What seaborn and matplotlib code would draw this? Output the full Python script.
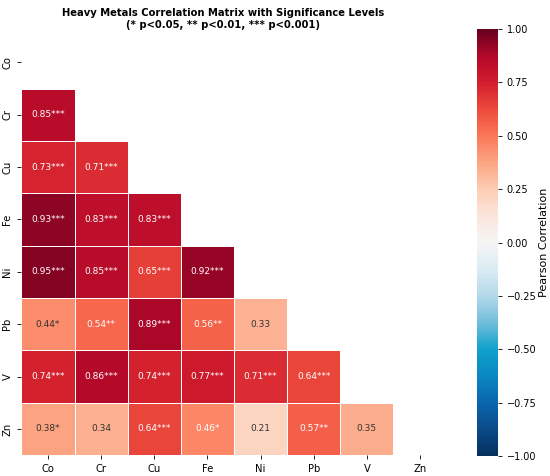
import numpy as np
import pandas as pd
import matplotlib
matplotlib.use('Agg')
import matplotlib.pyplot as plt
from matplotlib.colors import LinearSegmentedColormap
import seaborn as sns

metals = ['Co', 'Cr', 'Cu', 'Fe', 'Ni', 'Pb', 'V', 'Zn']

# lower triangle values, row by row (row i has i entries)
r_Cr = [0.85]
r_Cu = [0.73, 0.71]
r_Fe = [0.93, 0.83, 0.83]
r_Ni = [0.95, 0.85, 0.65, 0.92]
r_Pb = [0.44, 0.54, 0.89, 0.56, 0.33]
r_V = [0.74, 0.86, 0.74, 0.77, 0.71, 0.64]
r_Zn = [0.38, 0.34, 0.64, 0.46, 0.21, 0.57, 0.35]

s_Cr = ['***']
s_Cu = ['***', '***']
s_Fe = ['***', '***', '***']
s_Ni = ['***', '***', '***', '***']
s_Pb = ['*', '**', '***', '**', '']
s_V = ['***', '***', '***', '***', '***', '***']
s_Zn = ['*', '', '***', '*', '', '**', '']

rows = [[], r_Cr, r_Cu, r_Fe, r_Ni, r_Pb, r_V, r_Zn]
stars = [[], s_Cr, s_Cu, s_Fe, s_Ni, s_Pb, s_V, s_Zn]

n = len(metals)
corr = np.eye(n)
labels = np.full((n, n), '', dtype=object)
for i in range(n):
    for j, v in enumerate(rows[i]):
        corr[i, j] = v
        corr[j, i] = v
        labels[i, j] = f'{v:.2f}{stars[i][j]}'

corr_df = pd.DataFrame(corr, index=metals, columns=metals)
mask = np.triu(np.ones_like(corr, dtype=bool))

# a more vivid RdBu_r, as seen in the reference colour bar
cmap = LinearSegmentedColormap.from_list('vivid_rdbu', [
    '#05305f', '#0a4a8a', '#0a66ae', '#0a88c2', '#10a2cc', '#72bedb',
    '#b4d9ea', '#dbebf3', '#f5f5f5', '#fbe6dc', '#fdcdb4', '#fca583',
    '#fb7858', '#ec4a3c', '#d21e2d', '#b3082a', '#67001f'])

fig = plt.figure(figsize=(5.5, 4.76), dpi=100)
ax = fig.add_axes([0.039, 0.044, 0.773, 0.880])
cax = fig.add_axes([0.867, 0.042, 0.038, 0.897])

sns.heatmap(corr_df, mask=mask, annot=labels, fmt='', cmap=cmap,
            vmin=-1, vmax=1, center=0, linewidths=0.6, linecolor='white',
            annot_kws={'fontsize': 6.5}, ax=ax, cbar_ax=cax,
            cbar_kws={'label': 'Pearson Correlation'})

# text colour: white on the stronger cells, dark grey on pale ones
for t in ax.texts:
    val = float(t.get_text()[:4])
    t.set_color('white' if val >= 0.45 else '#333333')

ax.set_title('Heavy Metals Correlation Matrix with Significance Levels\n(* p<0.05, ** p<0.01, *** p<0.001)',
             fontsize=7.2, fontweight='bold', x=0.474, pad=6)
ax.tick_params(labelsize=7.2, length=3, width=0.6)
ax.set_xlabel('')
ax.set_ylabel('')
cax.tick_params(labelsize=7, length=3, width=0.6)
cax.set_ylabel('Pearson Correlation', fontsize=8, labelpad=2)
cax.set_yticks([-1, -0.75, -0.5, -0.25, 0, 0.25, 0.5, 0.75, 1])
cax.set_yticklabels(['\u22121.00', '\u22120.75', '\u22120.50', '\u22120.25', '0.00', '0.25', '0.50', '0.75', '1.00'])

fig.savefig('out.png', dpi=100)
